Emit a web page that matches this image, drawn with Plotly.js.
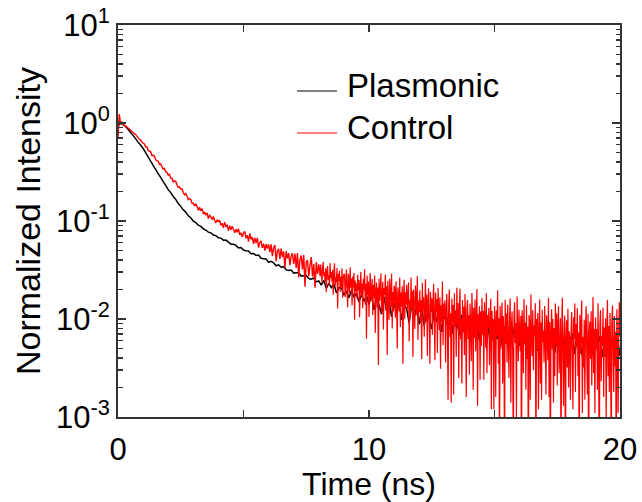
<!DOCTYPE html>
<html>
<head>
<meta charset="utf-8">
<script src="https://cdn.plot.ly/plotly-3.0.1.min.js"></script>
<style>html,body{margin:0;padding:0;background:#fff;}#chart{width:642px;height:502px;}</style>
</head>
<body>
<div id="chart"></div>
<script>
// ---- data (normalized intensity vs time) ----
const seriesNames = ['Plasmonic', 'Control'];
const seriesColors = ['#000000', '#ff0000'];
// time sampling (ns): first bin and bin width of each stored block
const timeStartNs = 0;
const timeStepPlasmonic = 0.1;
const timeStepControlEarly = 0.05;   // Control, 0 - 8 ns
const timeStartControlLate = 8;
const timeStepControlLate = 0.025;   // Control, 8 - 20 ns (noisy tail, finer)

const plasmonic = [
0.93,1.00,0.965,0.92,0.862,0.80,0.748,0.692,0.638,0.596,0.549,0.499,0.450,0.409,0.369,0.336,0.304,0.279,0.252,0.231,
0.209,0.195,0.178,0.166,0.151,0.141,0.130,0.123,0.113,0.108,0.0995,0.0962,0.0909,0.0881,0.0831,0.0806,0.0769,0.0756,0.0719,0.0709,
0.0674,0.0669,0.0637,0.0639,0.0608,0.0578,0.0580,0.0563,0.0530,0.0536,0.0505,0.0497,0.0495,0.0464,0.0466,0.0446,0.0450,0.0417,0.0413,0.0409,
0.0378,0.0388,0.0374,0.0349,0.0357,0.0337,0.0342,0.0317,0.0312,0.0316,0.0294,0.0297,0.0297,0.0274,0.0276,0.0278,0.0259,0.0255,0.0262,0.0239,
0.0245,0.0221,0.0248,0.0205,0.0231,0.0209,0.0229,0.0185,0.0208,0.0209,0.0175,0.0192,0.0165,0.0195,0.0167,0.0182,0.0149,0.0178,0.0151,0.0174,
0.0141,0.0178,0.0124,0.0165,0.0139,0.0112,0.0168,0.0121,0.0150,0.0105,0.0146,0.0112,0.0151,0.0098,0.0139,0.0127,0.0091,0.0142,0.0104,0.0133,
0.0088,0.0131,0.0085,0.0122,0.0100,0.0079,0.0126,0.0093,0.0114,0.0074,0.0112,0.0089,0.0117,0.0070,0.0108,0.0096,0.0068,0.0110,0.0079,0.0101,
0.0064,0.0102,0.0071,0.0096,0.0060,0.0089,0.0078,0.0058,0.0095,0.0067,0.0088,0.0062,0.0090,0.0054,0.0084,0.0072,0.0051,0.0086,0.0064,0.0080,
0.0053,0.0081,0.0058,0.0049,0.0080,0.0065,0.0077,0.0047,0.0074,0.0060,0.0078,0.0050,0.0076,0.0062,0.0045,0.0073,0.0057,0.0072,0.0046,0.0069,
0.0061,0.0071,0.0044,0.0068,0.0058,0.0042,0.0070,0.0055,0.0066,0.0043,0.0068,0.0051,0.0067,0.0041,0.0064,0.0056,0.0040,0.0066,0.0052,0.0063,
0.0042
];

const controlEarly = [
0.70,1.23,0.99,1.03,0.96,0.95,0.93,0.915,0.885,0.87,0.845,0.815,0.80,0.78,0.765,0.735,0.71,0.685,0.67,0.64,0.625,
0.610,0.571,0.573,0.525,0.517,0.508,0.466,0.468,0.460,0.422,0.411,0.408,0.378,0.383,0.359,0.339,0.344,0.319,0.314,0.294,
0.299,0.274,0.273,0.251,0.257,0.254,0.233,0.220,0.223,0.212,0.213,0.194,0.185,0.190,0.180,0.165,0.169,0.166,0.152,0.152,
0.142,0.150,0.141,0.129,0.138,0.127,0.134,0.118,0.122,0.116,0.121,0.106,0.114,0.110,0.103,0.111,0.101,0.0958,0.103,0.0989,
0.101,0.0905,0.0948,0.0852,0.0975,0.0881,0.0903,0.0796,0.0895,0.0815,0.0886,0.0817,0.0757,0.0826,0.0767,0.0834,0.0723,0.0759,0.0688,0.0752,
0.0783,0.0665,0.0716,0.0616,0.0747,0.0649,0.0684,0.0583,0.0674,0.0595,0.0671,0.0535,0.0603,0.0627,0.0532,0.0586,0.0500,0.0579,0.0522,0.0578,
0.0481,0.0577,0.0437,0.0531,0.0568,0.0390,0.0494,0.0520,0.0411,0.0524,0.0431,0.0488,0.0331,0.0492,0.0416,0.0470,0.0354,0.0441,0.0467,0.0364,
0.0466,0.0332,0.0470,0.0266,0.0405,0.0444,0.0321,0.0450,0.0213,0.0385,0.0398,0.0274,0.0355,0.0428,0.0271,0.0365,0.0209,0.0382,0.0289,0.0360
];

const controlLate = [
0.0360,
0.0324,0.0272,0.0360,0.0295,0.0234,0.0332,0.0384,0.0273,0.0299,0.0242,0.0330,0.0189,0.0304,0.0347,0.0250,0.0280,0.0219,0.0371,0.0261,0.0301,
0.0237,0.0318,0.0177,0.0281,0.0370,0.0216,0.0267,0.0237,0.0331,0.0128,0.0289,0.0245,0.0310,0.0189,0.0269,0.0206,0.0329,0.0165,0.0255,0.0288,
0.0283,0.0167,0.0240,0.0319,0.0203,0.0132,0.0290,0.0249,0.0183,0.0337,0.0210,0.0259,0.0138,0.0272,0.0210,0.0294,0.0098,0.0247,0.0191,0.0230,
0.0163,0.0282,0.0196,0.0250,0.0104,0.0218,0.0302,0.0171,0.0230,0.0129,0.0258,0.0197,0.0321,0.0140,0.0229,0.0063,0.0277,0.0176,0.0241,0.0105,
0.0213,0.0293,0.0152,0.0181,0.0256,0.0110,0.0224,0.0164,0.0278,0.0072,0.0192,0.0236,0.0130,0.0210,0.0034,0.0258,0.0153,0.0197,0.0291,0.0115,
0.0157,0.0240,0.0078,0.0207,0.0176,0.0284,0.0122,0.0216,0.0043,0.0245,0.0156,0.0098,0.0258,0.0180,0.0133,0.0289,0.0080,0.0189,0.0120,0.0219,
0.0202,0.0103,0.0243,0.0154,0.0050,0.0210,0.0179,0.0120,0.0265,0.0083,0.0186,0.0134,0.0216,0.0035,0.0168,0.0251,0.0100,0.0187,0.0140,0.0223,
0.0123,0.0175,0.0236,0.0059,0.0157,0.0104,0.0265,0.0129,0.0192,0.0041,0.0200,0.0143,0.0079,0.0220,0.0172,0.0109,0.0275,0.0061,0.0154,0.0117,
0.0196,0.0091,0.0155,0.0039,0.0233,0.0123,0.0167,0.0066,0.0135,0.0255,0.0094,0.0178,0.0042,0.0152,0.0206,0.0100,0.0035,0.0189,0.0118,0.0163,
0.0069,0.0150,0.0227,0.0106,0.0038,0.0186,0.0118,0.0160,0.0045,0.0207,0.0130,0.0077,0.0167,0.0031,0.0137,0.0093,0.0242,0.0054,0.0144,0.0105,
0.0155,0.0036,0.0122,0.0180,0.0080,0.0015,0.0138,0.0200,0.0065,0.0114,0.0014,0.0162,0.0094,0.0139,0.0017,0.0183,0.0083,0.0123,0.0041,0.0208,
0.0086,0.0146,0.0025,0.0124,0.0204,0.0062,0.0101,0.0022,0.0156,0.0073,0.0133,0.0043,0.0180,0.0094,0.0016,0.0123,0.0157,0.0062,0.0109,0.0027,
0.0144,0.0087,0.0037,0.0184,0.0110,0.0019,0.0130,0.0064,0.0158,0.0047,0.0096,0.0202,0.0013,0.0112,0.0074,0.0135,0.0024,0.0119,0.0053,0.0164,
0.0069,0.0121,0.0024,0.0148,0.0096,0.0051,0.0183,0.0028,0.0110,0.0082,0.0130,0.0034,0.0085,0.0161,0.0012,0.0121,0.0060,0.0100,0.0012,0.0136,
0.0096,0.0016,0.0122,0.0067,0.0196,0.0035,0.0102,0.0004,0.0136,0.0050,0.0085,0.0147,0.0022,0.0107,0.0072,0.0003,0.0157,0.0056,0.0114,0.0036,
0.0140,0.0067,0.0025,0.0101,0.0162,0.0014,0.0085,0.0119,0.0043,0.0003,0.0106,0.0148,0.0057,0.0091,0.0010,0.0170,0.0071,0.0037,0.0124,0.0075,
0.0047,0.0108,0.0002,0.0123,0.0078,0.0028,0.0160,0.0058,0.0092,0.0019,0.0138,0.0039,0.0084,0.0002,0.0110,0.0095,0.0015,0.0178,0.0064,0.0042,
0.0123,0.0030,0.0086,0.0067,0.0145,0.0003,0.0100,0.0049,0.0115,0.0012,0.0070,0.0158,0.0022,0.0092,0.0015,0.0124,0.0058,0.0076,0.0036,0.0136,
0.0061,0.0017,0.0109,0.0079,0.0038,0.0164,0.0016,0.0093,0.0002,0.0071,0.0126,0.0049,0.0100,0.0014,0.0081,0.0026,0.0144,0.0055,0.0114,0.0021,
0.0087,0.0135,0.0028,0.0050,0.0102,0.0003,0.0072,0.0165,0.0039,0.0013,0.0083,0.0108,0.0002,0.0065,0.0097,0.0032,0.0127,0.0020,0.0075,0.0060,
0.0015,0.0078,0.0118,0.0041,0.0012,0.0104,0.0063,0.0144,0.0018,0.0089,0.0052,0.0129,0.0026,0.0073,0.0002,0.0110,0.0044,0.0092,0.0154,0.0011,
0.0065,0.0032,0.0098,0.0015,0.0083,0.0135,0.0046,0.0017,0.0113,0.0002,0.0072,0.0094,0.0039,0.0120,0.0021,0.0061,0.0168,0.0028,0.0079,0.0011,
0.0104,0.0049,0.0079,0.0019,0.0145,0.0034,0.0002,0.0090,0.0123,0.0023,0.0067,0.0053,0.0130,0.0016,0.0082,0.0041,0.0101,0.0009,0.0075,0.0156,
0.0026,0.0085,0.0018,0.0115,0.0059,0.0002,0.0092,0.0137,0.0044,0.0018,0.0107,0.0033,0.0074,0.0002,0.0126,0.0055,0.0011,0.0081,0.0148,0.0066
];

// ---- axis ticks ----
const xTickVals = [0, 10, 20];
const xTickLabels = ['0', '10', '20'];
const xUnlabelledTickVals = [5, 15];
const yTickVals = [0.001, 0.01, 0.1, 1, 10];
const yTickLabels = ['10<sup>-3</sup>', '10<sup>-2</sup>', '10<sup>-1</sup>', '10<sup>0</sup>', '10<sup>1</sup>'];
const yMinorTickVals = [];
for (const decade of [0.001, 0.01, 0.1, 1]) {
  for (let m = 2; m <= 9; m++) yMinorTickVals.push(m * decade);
}

const FONT = '"Liberation Sans", Arial, Helvetica, sans-serif';
const AXIS = '#333333';

const traces = [
  {
    type: 'scatter', mode: 'lines', name: seriesNames[0],
    x0: timeStartNs, dx: timeStepPlasmonic, y: plasmonic,
    line: {color: seriesColors[0], width: 1.5, simplify: false},
    hoverinfo: 'skip'
  },
  {
    type: 'scatter', mode: 'lines', name: seriesNames[1],
    x0: timeStartNs, dx: timeStepControlEarly, y: controlEarly,
    line: {color: seriesColors[1], width: 1.4, simplify: false},
    hoverinfo: 'skip'
  },
  {
    type: 'scatter', mode: 'lines', name: seriesNames[1],
    x0: timeStartControlLate, dx: timeStepControlLate, y: controlLate,
    line: {color: seriesColors[1], width: 1.2, simplify: false},
    hoverinfo: 'skip'
  }
];

// legend drawn as line samples + text inside the plot
const legendLineX = [0.3566, 0.4363];
const legendRowsY = [0.8316, 0.7245];
const legendTextX = 0.452;
const legendTextY = [0.845, 0.738];

const shapes = seriesNames.map((n, i) => ({
  type: 'line', xref: 'paper', yref: 'paper',
  x0: legendLineX[0], x1: legendLineX[1], y0: legendRowsY[i], y1: legendRowsY[i],
  line: {color: seriesColors[i], width: 1}
}));
const annotations = seriesNames.map((n, i) => ({
  xref: 'paper', yref: 'paper', x: legendTextX, y: legendTextY[i],
  xanchor: 'left', yanchor: 'middle', showarrow: false,
  text: n, font: {family: FONT, size: 33, color: '#000'}
}));

const layout = {
  width: 642, height: 502,
  margin: {l: 118, r: 22, t: 25, b: 85, pad: 0},
  paper_bgcolor: '#ffffff', plot_bgcolor: '#ffffff',
  font: {family: FONT, size: 31, color: '#000'},
  showlegend: false,
  xaxis: {
    range: [0, 20], tickmode: 'array', tickvals: xTickVals, ticktext: xTickLabels,
    ticks: 'inside', ticklen: 7, tickwidth: 1.5, tickcolor: AXIS,
    minor: {tickmode: 'array', tickvals: xUnlabelledTickVals, ticks: 'inside', ticklen: 7, tickwidth: 1.5, tickcolor: AXIS, showgrid: false},
    showline: true, linewidth: 2, linecolor: AXIS, mirror: 'ticks',
    showgrid: false, zeroline: false, automargin: false,
    tickfont: {family: FONT, size: 31, color: '#000'},
    ticklabelstandoff: 4,
    title: {text: 'Time (ns)', font: {family: FONT, size: 32, color: '#000'}, standoff: 4}
  },
  yaxis: {
    type: 'log', range: [-3, 1], tickmode: 'array', tickvals: yTickVals, ticktext: yTickLabels,
    ticks: 'inside', ticklen: 8, tickwidth: 1.5, tickcolor: AXIS,
    minor: {tickmode: 'array', tickvals: yMinorTickVals, ticks: 'inside', ticklen: 4.5, tickwidth: 1.5, tickcolor: AXIS, showgrid: false},
    showline: true, linewidth: 2, linecolor: AXIS, mirror: 'ticks',
    showgrid: false, zeroline: false, automargin: false,
    tickfont: {family: FONT, size: 31, color: '#000'},
    ticklabelstandoff: 0,
    title: {text: 'Normalized Intensity', font: {family: FONT, size: 34, color: '#000'}, standoff: 5}
  },
  shapes: shapes,
  annotations: annotations
};

Plotly.newPlot('chart', traces, layout, {staticPlot: true, displayModeBar: false});
</script>
</body>
</html>
